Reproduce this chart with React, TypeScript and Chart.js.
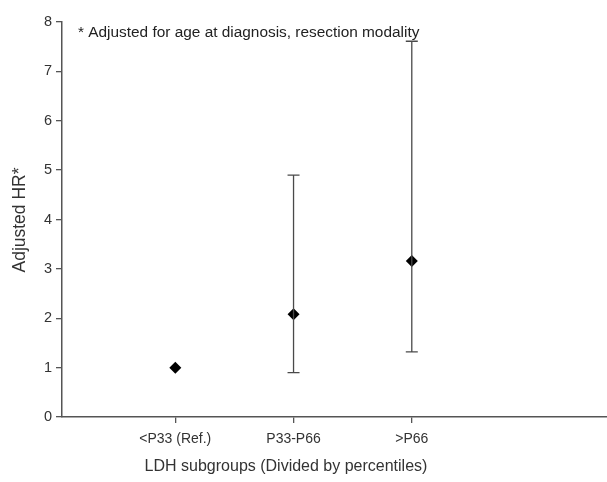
import React, { useEffect, useRef } from "react";
import { Chart, registerables } from "chart.js";

Chart.register(...registerables);

const categories = ["<P33 (Ref.)", "P33-P66", ">P66"];
const hrValues = [1.0, 2.08, 3.16];
const lowerCI: (number | null)[] = [null, 0.9, 1.32];
const upperCI: (number | null)[] = [null, 4.9, 7.61];
const yTicks = [0, 1, 2, 3, 4, 5, 6, 7, 8];
const note = "* Adjusted for age at diagnosis, resection modality";
const xTitle = "LDH subgroups (Divided by percentiles)";
const yTitle = "Adjusted HR*";

const FONT = "'Liberation Sans', Arial, sans-serif";

const errorBarPlugin = {
  id: "errorBars",
  afterDatasetsDraw(chart: any) {
    const { ctx, scales } = chart;
    const xs = scales.x;
    const ys = scales.y;
    ctx.save();
    ctx.strokeStyle = "#4a4a4a";
    ctx.lineWidth = 1.3;
    categories.forEach((_, i) => {
      const lo = lowerCI[i];
      const hi = upperCI[i];
      if (lo == null || hi == null) return;
      const x = xs.getPixelForValue(i + 1);
      const yl = ys.getPixelForValue(lo);
      const yh = ys.getPixelForValue(hi);
      ctx.beginPath();
      ctx.moveTo(x, yl);
      ctx.lineTo(x, yh);
      ctx.moveTo(x - 6, yl);
      ctx.lineTo(x + 6, yl);
      ctx.moveTo(x - 6, yh);
      ctx.lineTo(x + 6, yh);
      ctx.stroke();
    });
    ctx.restore();
  },
};

const textPlugin = {
  id: "texts",
  afterDraw(chart: any) {
    const { ctx, chartArea } = chart;
    ctx.save();
    ctx.fillStyle = "#222";
    ctx.font = `15.4px ${FONT}`;
    ctx.textBaseline = "middle";
    ctx.textAlign = "left";
    ctx.fillText(note, chartArea.left + 16, chartArea.top + 11);

    ctx.fillStyle = "#333";
    ctx.font = `16px ${FONT}`;
    ctx.textAlign = "center";
    ctx.fillText(xTitle, 286, 467);

    ctx.font = `17.5px ${FONT}`;
    ctx.translate(20, 220);
    ctx.rotate(-Math.PI / 2);
    ctx.fillText(yTitle, 0, 0);
    ctx.restore();
  },
};

export default function App() {
  const ref = useRef<HTMLCanvasElement>(null);
  useEffect(() => {
    if (!ref.current) return;
    const chart = new Chart(ref.current, {
      type: "scatter",
      data: {
        datasets: [
          {
            data: hrValues.map((v, i) => ({ x: i + 1, y: v })),
            pointStyle: "rectRot",
            pointRadius: 6,
            pointBackgroundColor: "#000",
            pointBorderColor: "#000",
            borderWidth: 0,
          } as any,
        ],
      },
      options: {
        animation: false,
        responsive: false,
        layout: { padding: { top: 22, right: 0, left: 0, bottom: 0 } },
        plugins: { legend: { display: false }, tooltip: { enabled: false } },
        scales: {
          x: {
            type: "linear",
            min: 0.042,
            max: 4.71,
            afterBuildTicks: (s: any) => {
              s.ticks = categories.map((_, i) => ({ value: i + 1 }));
            },
            afterFit: (s: any) => {
              s.height = 65;
              s.paddingRight = 0;
              s.paddingLeft = 0;
            },
            ticks: {
              callback: (v: any) => categories[Number(v) - 1] ?? "",
              color: "#333",
              font: { family: FONT, size: 14 },
              padding: 8,
              maxRotation: 0,
            },
            grid: {
              drawOnChartArea: false,
              drawTicks: true,
              tickLength: 6,
              color: "#555",
              lineWidth: 1.3,
            },
            border: { color: "#555", width: 1.5 },
          },
          y: {
            type: "linear",
            min: 0,
            max: 8,
            afterBuildTicks: (s: any) => {
              s.ticks = yTicks.map((v) => ({ value: v }));
            },
            afterFit: (s: any) => {
              s.width = 62;
            },
            ticks: {
              color: "#333",
              font: { family: FONT, size: 14.5 },
              padding: 4,
            },
            grid: {
              drawOnChartArea: false,
              drawTicks: true,
              tickLength: 6,
              color: "#555",
              lineWidth: 1.3,
            },
            border: { color: "#555", width: 1.5 },
          },
        },
      },
      plugins: [errorBarPlugin, textPlugin],
    } as any);
    return () => chart.destroy();
  }, []);
  return (
    <div
      style={{
        position: "fixed",
        left: 0,
        top: 0,
        width: 607,
        height: 482,
        overflow: "hidden",
        background: "#fff",
      }}
    >
      <canvas ref={ref} width={620} height={482} style={{ width: 620, height: 482, display: "block" }} />
    </div>
  );
}
